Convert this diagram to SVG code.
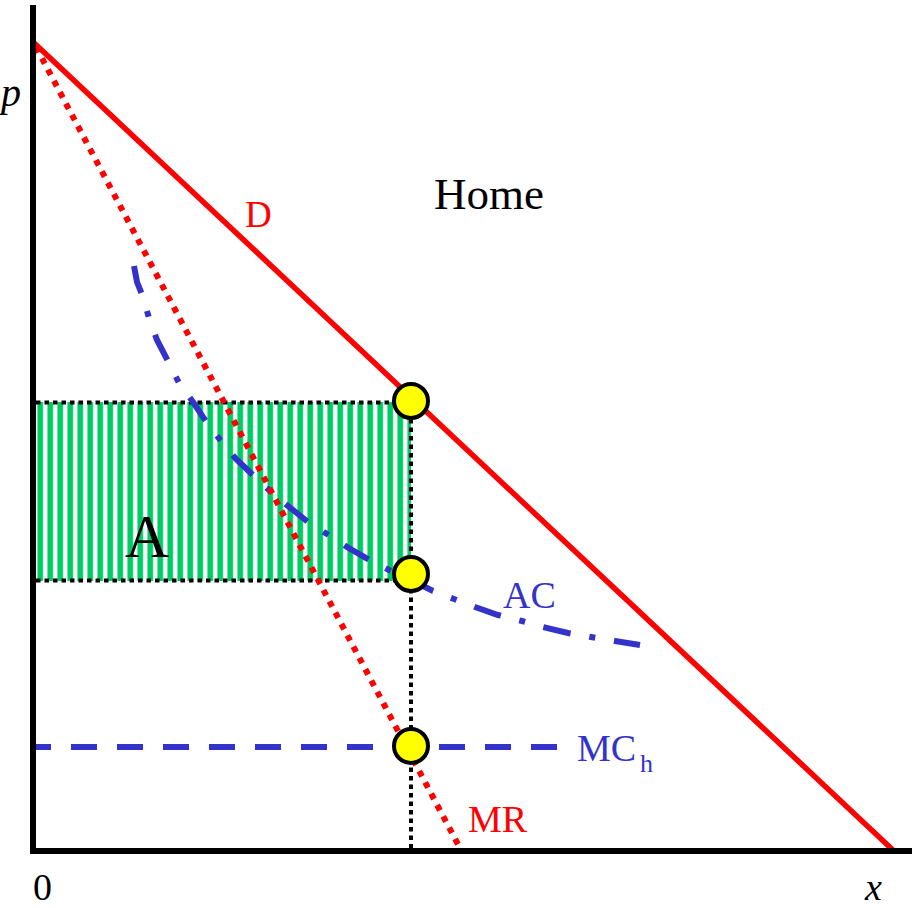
<svg xmlns="http://www.w3.org/2000/svg" width="914" height="908" viewBox="0 0 914 908">
<defs>
<pattern id="stripes" patternUnits="userSpaceOnUse" x="37" y="0" width="10" height="10">
<rect x="0" y="0" width="10" height="10" fill="#ffffff"/>
<rect x="0" y="0" width="6.5" height="10" fill="#8fe6b8"/>
<rect x="0.8" y="0" width="5" height="10" fill="#00cc66"/>
</pattern>
<style>
.lbl{font-family:"Liberation Serif","Times New Roman",serif;}
.ax{stroke:#000;stroke-width:6;fill:none;}
.dot{stroke:#000;stroke-width:4;stroke-dasharray:4.5 4;fill:none;}
.red{stroke:#ff0000;stroke-width:5.5;fill:none;}
.reddot{stroke:#ff0000;stroke-width:6;stroke-dasharray:6 6.8;fill:none;}
.blue{stroke:#3333cc;stroke-width:6;fill:none;}
.pt{fill:#ffff00;stroke:#000;stroke-width:4;}
</style>
</defs>
<rect width="914" height="908" fill="#ffffff"/>
<g id="area-A">
<rect x="36" y="402" width="375" height="179" fill="url(#stripes)"/>
</g>
<g id="connectors">
<path class="dot" d="M36 402.5 H411"/>
<path class="dot" d="M36 580.5 H411"/>
<path class="dot" d="M411 402 V849"/>
<path class="blue" stroke-dasharray="26 20" d="M557 747 H33"/>
<path class="blue" stroke-dasharray="28 19 6 19" d="M134 266 L137 282 L143 297 L149 318 L157 340 L169 363 L179 383 L193 402 L207 423 L221 441 L236 459 L254 476 L271 492 L288 506 L308 522 L327 534 L347 547 L368 559 L389 570 L411 580 L433 591 L454 599 L475 607 L498 615 L522 621 L543 627 L568 633 L591 637 L615 641 L640 645"/>
<path class="red" d="M32 41 L895 852"/>
<path class="reddot" d="M36 47 L461 850"/>
</g>
<g id="axes">
<path class="ax" d="M33 5 V851 H912"/>
</g>
<g id="points">
<circle id="pt-top" class="pt" cx="411" cy="401" r="17"/>
<circle id="pt-mid" class="pt" cx="411" cy="574" r="17"/>
<circle id="pt-bot" class="pt" cx="411" cy="746" r="17"/>
</g>
<g id="labels">
<text class="lbl" x="1" y="106" font-size="40" font-style="italic">p</text>
<text class="lbl" x="33" y="900" font-size="38">0</text>
<text class="lbl" x="865" y="900" font-size="38" font-style="italic">x</text>
<text class="lbl" x="434" y="209" font-size="45">Home</text>
<text class="lbl" x="245" y="227" font-size="37" fill="#ff0000">D</text>
<text class="lbl" x="503" y="608" font-size="38" fill="#3333cc">AC</text>
<text class="lbl" x="577" y="761" font-size="38" fill="#3333cc">MC<tspan x="640" y="772" font-size="26">h</tspan></text>
<text class="lbl" x="468" y="832" font-size="38" fill="#ff0000">MR</text>
<text class="lbl" x="125" y="557" font-size="61">A</text>
</g>
</svg>
